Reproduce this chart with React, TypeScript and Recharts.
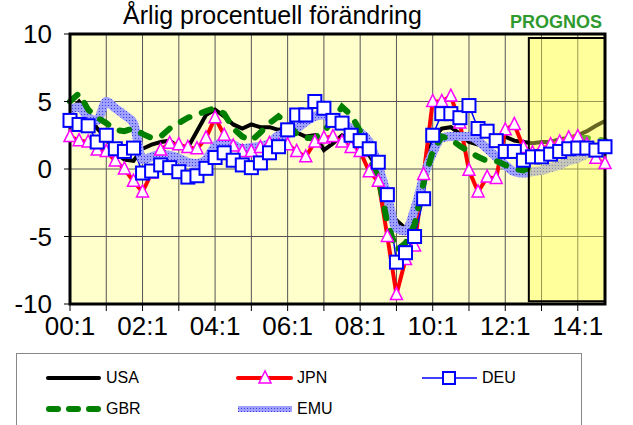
import React from 'react';
import {
  LineChart, Line, XAxis, YAxis, CartesianGrid, ReferenceArea
} from 'recharts';

// quarterly y/y change, 00:1 .. 14:4 (last part is the forecast)
const usa = [
  4.3, 5.0, 4.1, 3.0, 2.3, 1.2, 0.7, 0.6, 1.5, 1.8, 2.0, 2.1,
  1.6, 1.6, 2.8, 4.0, 4.4, 3.9, 3.3, 3.0, 3.3, 3.1, 3.1, 2.9,
  3.1, 2.7, 2.4, 2.5, 1.4, 1.9, 2.5, 2.2, 1.6, 1.0, 0.0, -2.8,
  -3.8, -4.4, -3.0, -0.3, 2.2, 3.0, 3.1, 2.6, 2.0, 1.8, 1.6, 2.0,
  2.4, 2.1, 2.0, 1.9, 2.0, 2.0, 2.2, 2.3, 2.5, 2.8, 3.2, 3.55,
];
const jpn = [
  2.4, 2.1, 2.0, 1.4, 1.3, 0.6, 0.0, -0.9, -1.7, -0.3, 1.4, 1.9,
  1.8, 1.6, 1.5, 2.3, 3.8, 2.5, 1.7, 1.3, 1.3, 1.6, 1.9, 1.7,
  1.8, 1.3, 0.9, 2.0, 2.3, 2.4, 2.0, 1.6, 1.3, -0.2, -0.9, -5.0,
  -9.3, -6.7, -5.7, -0.4, 5.0, 5.0, 5.4, 3.4, -0.1, -1.7, -0.6, -0.7,
  2.9, 3.3, 1.6, 1.2, 1.5, 1.8, 2.0, 2.3, 2.4, 1.8, 0.8, 0.4,
];
const deu = [
  3.6, 3.3, 3.2, 2.0, 2.5, 1.5, 1.3, 1.55, -0.3, -0.15, 0.3, 0.1,
  -0.2, -0.6, -0.5, 0.05, 0.85, 1.2, 0.65, 0.3, 0.1, 0.45, 1.2, 1.65,
  2.9, 4.0, 4.0, 5.0, 4.5, 3.6, 3.4, 2.5, 2.1, 1.5, 0.5, -1.9,
  -6.9, -6.2, -5.0, -2.2, 2.5, 4.1, 4.1, 3.8, 4.7, 3.0, 2.8, 2.1,
  1.3, 1.3, 0.65, 0.9, 0.9, 1.1, 1.3, 1.5, 1.55, 1.55, 1.4, 1.65,
];
const gbr = [
  5.0, 5.6, 4.4, 3.8, 3.4, 2.9, 2.8, 3.0, 2.6, 2.3, 2.4, 3.0,
  3.4, 3.8, 4.0, 4.3, 4.5, 4.1, 3.0, 2.4, 2.1, 2.7, 3.4, 3.9,
  3.4, 2.6, 2.3, 2.3, 2.8, 3.6, 4.6, 4.0, 2.8, 0.8, -0.6, -4.0,
  -6.0, -5.5, -4.1, -1.0, 1.3, 2.4, 2.2, 1.7, 1.3, 0.9, 0.6, 0.6,
  0.3, 0.0, -0.1, 0.2, 0.7, 1.2, 1.6, 2.1, 2.3, 2.3, 2.2, 2.1,
];
const emu = [
  4.4, 4.6, 3.8, 3.6, 5.0, 4.5, 4.0, 3.4, 0.7, 0.9, 1.1, 1.0,
  0.8, 0.5, 0.4, 0.7, 1.7, 2.0, 1.8, 1.5, 1.6, 1.7, 1.9, 2.5,
  2.6, 3.0, 3.5, 3.9, 4.0, 3.6, 3.4, 3.0, 2.7, 2.0, 0.2, -2.0,
  -4.4, -4.6, -3.0, -0.6, 1.2, 2.3, 2.4, 2.4, 2.4, 2.1, 1.5, 0.9,
  0.3, -0.2, -0.3, -0.2, -0.1, 0.1, 0.3, 0.6, 0.8, 1.1, 1.3, 1.55,
];

const yearTicks = [0, 4, 8, 12, 16, 20, 24, 28, 32, 36, 40, 44, 48, 52, 56];
const yearLabels = ['00:1', '', '02:1', '', '04:1', '', '06:1', '', '08:1', '', '10:1', '', '12:1', '', '14:1'];
const yTicks = [-10, -5, 0, 5, 10];
const forecastStart = 50.6;

const data = usa.map((v, i) => ({
  t: i, usa: v, jpn: jpn[i], deu: deu[i], gbr: gbr[i], emu: emu[i],
}));

const font = 'Arial, "Liberation Sans", sans-serif';

const Triangle = (p: any) => {
  const { cx, cy, index } = p;
  if (cx == null || cy == null) return null;
  return (
    <polygon key={`t${index}`} points={`${cx},${cy - 7} ${cx - 6},${cy + 5} ${cx + 6},${cy + 5}`}
      fill="#fff" stroke="#FF00FF" strokeWidth={1.5} />
  );
};

const Square = (p: any) => {
  const { cx, cy, index } = p;
  if (cx == null || cy == null) return null;
  return <rect key={`s${index}`} x={cx - 6.5} y={cy - 6.5} width={13} height={13} fill="#fff" stroke="#0000FF" strokeWidth={2} />;
};

function LegendItem({ x, y, label, icon }: { x: number; y: number; label: string; icon: React.ReactNode }) {
  return (
    <div style={{ position: 'absolute', left: x, top: y - 10, height: 20, display: 'flex', alignItems: 'center' }}>
      <svg width={58} height={20} style={{ display: 'block' }}>{icon}</svg>
      <span style={{ fontSize: 16, marginLeft: 4 }}>{label}</span>
    </div>
  );
}

export default function App() {
  return (
    <div style={{ position: 'relative', width: 633, height: 425, fontFamily: font, background: '#fff', overflow: 'hidden' }}>
      <style>{'body{margin:0}'}</style>
      <svg width={0} height={0} style={{ position: 'absolute' }}>
        <defs>
          <pattern id="emuPat" width="3" height="3" patternUnits="userSpaceOnUse">
            <rect width="3" height="3" fill="#A0A0FF" />
            <rect width="1" height="1" fill="#4040E0" />
          </pattern>
        </defs>
      </svg>

      <div style={{ position: 'absolute', left: 0, width: 545, top: 1, lineHeight: '28px', textAlign: 'center', fontSize: 25 }}>
        Årlig procentuell förändring
      </div>

      <LineChart width={633} height={345} data={data} margin={{ top: 34, right: 28, left: 0, bottom: 0 }}>
        <CartesianGrid stroke="#555" strokeWidth={1} fill="#FFFFCC" fillOpacity={1} />
        <XAxis
          dataKey="t"
          type="number"
          domain={[0, 59]}
          ticks={yearTicks}
          tickFormatter={(v: number) => yearLabels[yearTicks.indexOf(v)] ?? ''}
          height={41}
          tickSize={7}
          tickMargin={6}
          axisLine={false}
          tickLine={{ stroke: '#000' }}
          tick={{ fontSize: 26, fill: '#000', fontFamily: font }}
          interval={0}
        />
        <YAxis
          domain={[-10, 10]}
          ticks={yTicks}
          width={70}
          tickSize={6}
          tickMargin={12}
          axisLine={false}
          tickLine={{ stroke: '#000' }}
          tick={{ fontSize: 26, fill: '#000', fontFamily: font }}
          interval={0}
        />
        <Line dataKey="usa" stroke="#000" strokeWidth={4} dot={false} isAnimationActive={false} />
        <Line dataKey="jpn" stroke="#FF0000" strokeWidth={4} dot={Triangle} isAnimationActive={false} />
        <Line dataKey="deu" stroke="#0000FF" strokeWidth={1.5} dot={Square} isAnimationActive={false} />
        <Line dataKey="emu" type="monotone" stroke="url(#emuPat)" strokeWidth={9} dot={false} isAnimationActive={false} />
        <Line dataKey="gbr" stroke="#008000" strokeWidth={6} strokeDasharray="10 13" strokeLinecap="round" dot={false} isAnimationActive={false} />
        <ReferenceArea x1={forecastStart} x2={59} y1={-9.8} y2={9.7} fill="#FFFF55" fillOpacity={0.4}
          stroke="#000" strokeWidth={2} strokeOpacity={1} zIndex={450} />
        <ReferenceArea x1={0} x2={59} y1={-10} y2={10} fill="none" stroke="#000" strokeWidth={3} zIndex={460} />
      </LineChart>

      <div style={{ position: 'absolute', left: 510, top: 12, fontSize: 18, fontWeight: 'bold', color: '#2F9A2F' }}>
        PROGNOS
      </div>

      <div style={{ position: 'absolute', left: 16, top: 353, width: 566, height: 80, border: '1px solid #888', boxSizing: 'border-box' }} />
      <LegendItem x={44} y={378} label="USA" icon={<line x1={4} y1={10} x2={55} y2={10} stroke="#000" strokeWidth={4} strokeLinecap="round" />} />
      <LegendItem x={235} y={378} label="JPN" icon={<g>
        <line x1={3} y1={10} x2={56} y2={10} stroke="#FF0000" strokeWidth={4} strokeLinecap="round" />
        <polygon points="30,3 24,15 36,15" fill="#fff" stroke="#FF00FF" strokeWidth={1.5} />
      </g>} />
      <LegendItem x={420} y={378} label="DEU" icon={<g>
        <line x1={2} y1={10} x2={57} y2={10} stroke="#0000FF" strokeWidth={1.5} />
        <rect x={23} y={4} width={12} height={12} fill="#fff" stroke="#0000FF" strokeWidth={2} />
      </g>} />
      <LegendItem x={44} y={409} label="GBR" icon={<line x1={5} y1={10} x2={54} y2={10} stroke="#008000" strokeWidth={6} strokeDasharray="9 11" strokeLinecap="round" />} />
      <LegendItem x={235} y={409} label="EMU" icon={<line x1={3} y1={10} x2={57} y2={10} stroke="url(#emuPat)" strokeWidth={6} />} />
    </div>
  );
}
